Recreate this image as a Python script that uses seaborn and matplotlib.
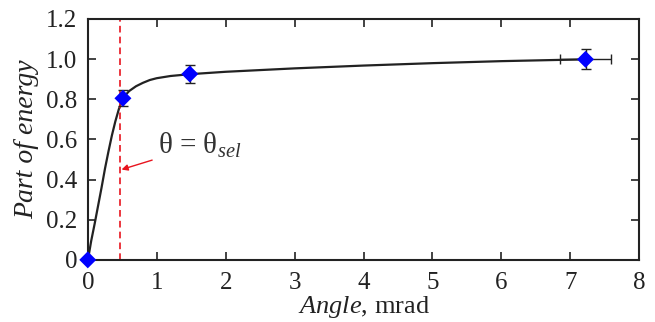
import matplotlib
matplotlib.use("Agg")
import matplotlib.pyplot as plt
import seaborn as sns
import pandas as pd

# measured points
angle = [0.0, 0.51, 1.48, 7.22]
energy = [0.0, 0.805, 0.926, 0.999]
energy_err = [0.0, 0.040, 0.047, 0.050]
angle_err = [0.0, 0.0, 0.0, 0.37]

# fitted curve
curve_x = [0.0, 0.02, 0.05, 0.1, 0.15, 0.2, 0.25, 0.3, 0.35, 0.4, 0.45, 0.5, 0.55,
           0.6, 0.7, 0.8, 0.9, 1.0, 1.2, 1.48, 2.0, 3.0, 4.0, 5.0, 6.0, 7.22]
curve_y = [0.0, 0.035, 0.095, 0.18, 0.27, 0.36, 0.455, 0.54, 0.62, 0.69, 0.75, 0.795, 0.822,
           0.841, 0.865, 0.882, 0.896, 0.905, 0.916, 0.925, 0.937, 0.954, 0.968, 0.98, 0.99, 0.999]

theta_sel = 0.47

sns.set_style("ticks")
plt.rcParams["font.family"] = ["Liberation Serif", "DejaVu Serif"]
plt.rcParams["mathtext.fontset"] = "custom"
plt.rcParams["mathtext.rm"] = "Liberation Serif"
plt.rcParams["mathtext.it"] = "Liberation Serif:italic"

fig = plt.figure(figsize=(6.55, 3.22), dpi=100)
ax = fig.add_axes([0.134, 0.193, 0.842, 0.748])

curve = pd.DataFrame({"x": curve_x, "y": curve_y})
pts = pd.DataFrame({"x": angle, "y": energy})

sns.lineplot(data=curve, x="x", y="y", ax=ax, color="#222222", lw=1.6, sort=False)
ax.axvline(theta_sel, color="#e8141e", lw=1.2, ls=(0, (4, 2.5)))
ax.errorbar(angle, energy, yerr=energy_err, xerr=angle_err, fmt="none",
            ecolor="#222222", elinewidth=1.0, capsize=3.5, capthick=1.0, zorder=3)
sns.scatterplot(data=pts, x="x", y="y", ax=ax, marker="D", s=75, color="#0000ff",
                edgecolor="none", zorder=5, clip_on=False)

ax.annotate(r"θ = θ$_{\mathit{sel}}$", xy=(0.49, 0.45), xytext=(1.02, 0.57),
            fontsize=21, color="#333333", va="center", ha="left",
            arrowprops=dict(arrowstyle="-|>", color="#e8141e", lw=1.0,
                            mutation_scale=9, shrinkA=2, shrinkB=0))

ax.set_xlim(0, 8)
ax.set_ylim(0, 1.2)
ax.set_xticks(range(0, 9))
ax.set_yticks([0, 0.2, 0.4, 0.6, 0.8, 1.0, 1.2])
ax.set_yticklabels(["0", "0.2", "0.4", "0.6", "0.8", "1.0", "1.2"])
ax.tick_params(direction="in", length=6, width=1.2, top=True, right=True,
               labelsize=18, colors="#222222")
ax.tick_params(axis="x", pad=8.5)
ax.tick_params(axis="y", pad=7.5)
for s in ax.spines.values():
    s.set_linewidth(1.5)
    s.set_color("#222222")
ax.set_xlabel(r"$\mathit{Angle}$, mrad", fontsize=19, labelpad=0, color="#222222")
ax.set_ylabel("Part of energy", fontsize=20, style="italic", labelpad=5, color="#222222")

fig.savefig("out.png", dpi=100)
